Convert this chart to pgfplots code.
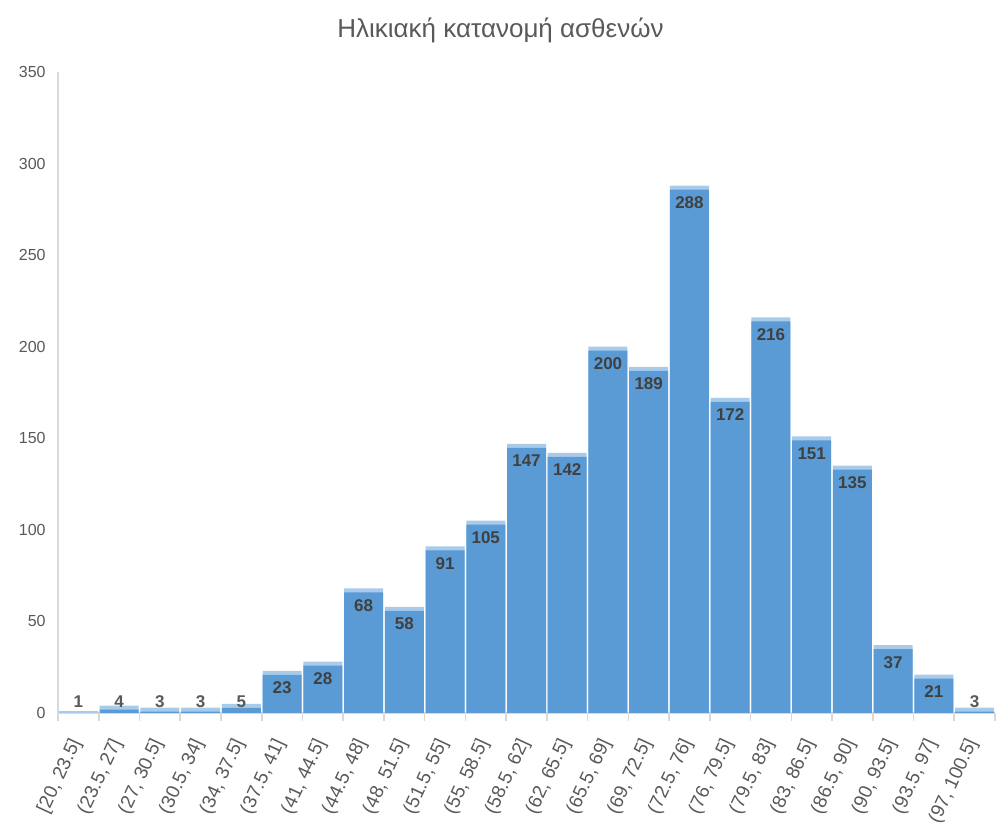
\documentclass[border=0pt]{standalone}
\usepackage{fontspec}
\setmainfont{Liberation Sans}
\usepackage{pgfplots}
\usepackage{pgfplotstable}
\pgfplotsset{compat=1.18}

\definecolor{barblue}{HTML}{5B9BD5}
\definecolor{barlight}{HTML}{A9CBEA}
\definecolor{axisgray}{HTML}{D9D9D9}
\definecolor{textgray}{HTML}{595959}
\definecolor{labelgray}{HTML}{404040}

% age bins, patient counts
\pgfplotstableread{
x y
0 1
1 4
2 3
3 3
4 5
5 23
6 28
7 68
8 58
9 91
10 105
11 147
12 142
13 200
14 189
15 288
16 172
17 216
18 151
19 135
20 37
21 21
22 3
}\agedata

% labels that sit inside the bar top
\pgfplotstableread{
x y
5 23
6 28
7 68
8 58
9 91
10 105
11 147
12 142
13 200
14 189
15 288
16 172
17 216
18 151
19 135
20 37
21 21
}\biglabels

\begin{document}
\begin{tikzpicture}
\path[use as bounding box] (0,0) rectangle (500pt,416.5pt);
\begin{axis}[
  at={(29pt,60pt)}, anchor=south west,
  scale only axis, width=468.5pt, height=320.5pt,
  xmin=-0.5, xmax=22.5, ymin=0, ymax=350,
  axis lines*=left,
  axis line style={axisgray, line width=0.8pt},
  ytick={0,50,...,350},
  xtick={0,...,22},
  xticklabels={{[20, 23.5]},{(23.5, 27]},{(27, 30.5]},{(30.5, 34]},{(34, 37.5]},
    {(37.5, 41]},{(41, 44.5]},{(44.5, 48]},{(48, 51.5]},{(51.5, 55]},{(55, 58.5]},
    {(58.5, 62]},{(62, 65.5]},{(65.5, 69]},{(69, 72.5]},{(72.5, 76]},{(76, 79.5]},
    {(79.5, 83]},{(83, 86.5]},{(86.5, 90]},{(90, 93.5]},{(93.5, 97]},{(97, 100.5]}},
  minor xtick={-0.5,0.5,...,22.5},
  major tick length=0pt,
  minor tick length=4pt,
  tick align=outside,
  minor tick style={axisgray, line width=0.8pt},
  yticklabel style={font=\fontsize{8}{9}\selectfont, text=textgray, inner sep=0pt, xshift=-6pt},
  xticklabel style={font=\fontsize{9.5}{11}\selectfont, text=textgray, rotate=65, anchor=east, inner sep=1pt, xshift=-11.5pt, yshift=-5pt},
  /pgf/number format/assume math mode=true,
  title={Ηλικιακή κατανομή ασθενών},
  title style={font=\fontsize{13}{15}\selectfont, text=textgray, at={(0.5,1)}, anchor=center, yshift=15pt, xshift=-13pt},
]
\addplot[ybar, bar width=19.5pt, fill=barlight, draw=none] table[x=x,y=y]{\agedata};
\addplot[ybar, bar width=19.5pt, fill=barblue, draw=none, yshift=-2pt] table[x=x,y=y]{\agedata};
\addplot[draw=none, mark=none, nodes near coords,
  nodes near coords style={anchor=north, yshift=-2pt, text=labelgray, font=\fontsize{8.5}{10}\selectfont\bfseries}]
  table[x=x,y=y]{\biglabels};
\addplot[draw=none, mark=none, point meta=explicit symbolic, nodes near coords,
  nodes near coords style={anchor=south, yshift=-1pt, text=textgray, font=\fontsize{8.5}{10}\selectfont\bfseries}]
  coordinates {(0,0)[1] (1,0)[4] (2,0)[3] (3,0)[3] (4,0)[5] (22,0)[3]};
\end{axis}
\end{tikzpicture}
\end{document}
